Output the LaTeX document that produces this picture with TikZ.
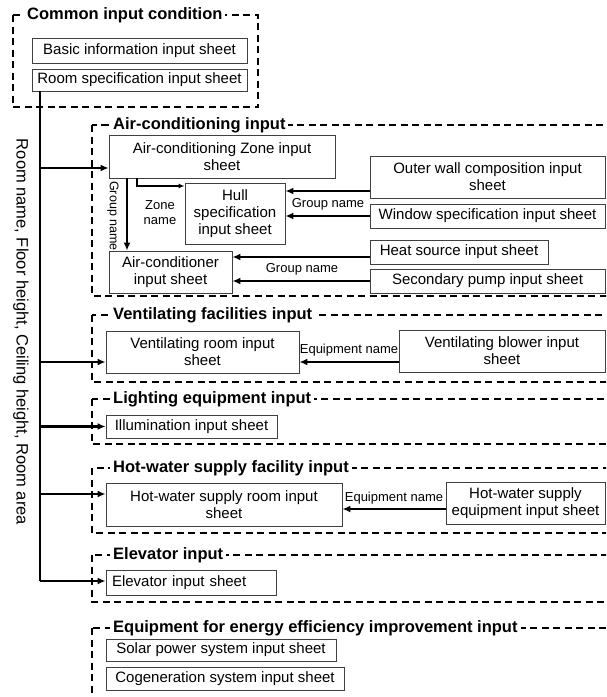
\documentclass[tikz,border=0pt]{standalone}
\usepackage{fontspec}
\setmainfont{Liberation Sans}
\usetikzlibrary{arrows.meta}

\tikzstyle{sheet} = [draw=black!75, line width=0.9pt, align=center, inner sep=0pt, font=\fontsize{15}{17}\selectfont]
\tikzstyle{grp} = [dash pattern=on 7pt off 4.5pt, line width=1.8pt]
\tikzstyle{ttl} = [anchor=west, fill=white, inner sep=3pt, font=\bfseries\fontsize{16.5}{19}\selectfont]
\tikzstyle{lbl} = [align=center, inner sep=0pt, font=\fontsize{13}{15}\selectfont]
\tikzstyle{arw} = [-{Latex[length=8pt,width=7pt]}, line width=2.2pt]
\tikzstyle{arwthin} = [-{Latex[length=6pt,width=5pt]}, line width=1.5pt]
\tikzstyle{trunk} = [line width=1.6pt]

\begin{document}
\begin{tikzpicture}[x=1pt, y=-1pt]
\useasboundingbox (0,0) rectangle (606,697);
\clip (0,0) rectangle (606,697);

    % dashed groups
    \draw[grp] (13,15) rectangle (258,107);
    \draw[grp] (92,125) rectangle (625,296);
    \draw[grp] (92,315) rectangle (625,382);
    \draw[grp] (92,399) rectangle (625,444);
    \draw[grp] (92,468) rectangle (625,533);
    \draw[grp] (92,555) rectangle (625,602);
    \draw[grp] (92,628) rectangle (625,720);

\node[ttl] (tcommon) at (24,15) {Common input condition};
\node[ttl] (tac) at (110,125) {Air-conditioning input};
\node[ttl] (tvent) at (110,315) {Ventilating facilities input};
\node[ttl] (tlight) at (110,399) {Lighting equipment input};
\node[ttl] (thw) at (110,468) {Hot-water supply facility input};
\node[ttl] (telev) at (110,555) {Elevator input};
\node[ttl] (tenergy) at (110,628) {Equipment for energy efficiency improvement input};

% sheets
\node[sheet, minimum width=215, minimum height=25] (basic) at (139.5,50.5) {Basic information input sheet};
\node[sheet, minimum width=215, minimum height=22] (roomspec) at (139.5,80) {Room specification input sheet};

\node[sheet, minimum width=226, minimum height=43] (acz) at (222,156.5) {Air-conditioning Zone input\\sheet};
\node[sheet, minimum width=100, minimum height=61] (hull) at (235,213.5) {Hull\\specification\\input sheet};
\node[sheet, minimum width=123, minimum height=42] (accond) at (170.5,272) {Air-conditioner\\input sheet};
\node[sheet, minimum width=235, minimum height=42] (outer) at (487.5,177) {Outer wall composition input\\sheet};
\node[sheet, minimum width=235, minimum height=24] (window) at (487.5,216) {Window specification input sheet};
\node[sheet, minimum width=178, minimum height=24] (heat) at (459,252) {Heat source input sheet};
\node[sheet, minimum width=235, minimum height=24] (pump) at (487.5,281) {Secondary pump input sheet};

\node[sheet, minimum width=193, minimum height=42] (ventroom) at (202.5,352) {Ventilating room input\\sheet};
\node[sheet, minimum width=206, minimum height=42] (blower) at (502,351) {Ventilating blower input\\sheet};

\node[sheet, minimum width=171, minimum height=23] (illum) at (191.5,426.5) {Illumination input sheet};

\node[sheet, minimum width=236, minimum height=43] (hwroom) at (224,504.5) {Hot-water supply room input\\sheet};
\node[sheet, minimum width=159, minimum height=42] (hwequip) at (525.5,503) {Hot-water supply\\equipment input sheet};

\node[sheet, minimum width=170, minimum height=25, text width=158, align=left] (elev) at (191,582.5) {Elevator input sheet};

\node[sheet, minimum width=230, minimum height=22] (solar) at (221,650) {Solar power system input sheet};
\node[sheet, minimum width=238, minimum height=23] (cog) at (225,678.5) {Cogeneration system input sheet};

% labels
\node[rotate=-90, inner sep=0pt, font=\fontsize{16.5}{19}\selectfont] (side) at (21,332) {Room name, Floor height, Ceiling height, Room area};
\node[lbl, rotate=-90, font=\fontsize{12.5}{14}\selectfont] (gnv) at (113,216) {Group name};
\node[lbl] (zone) at (160,213) {Zone\\name};
\node[lbl] (gnhull) at (328,204) {Group name};
\node[lbl] (gnac) at (302,269) {Group name};
\node[lbl] (eqvent) at (349,350) {Equipment name};
\node[lbl] (eqhw) at (394,498) {Equipment name};

% trunk and branches
\coordinate (tbot) at (40,581);
\draw[trunk] (roomspec.south -| tbot) -- (tbot);
\foreach \n/\y in {acz/168, ventroom/362, illum/426.5, hwroom/494, elev/581}
    \draw[arw] (tbot |- 0,\y) -- (\n.west |- 0,\y);

% air-conditioning links
\draw[arw] (acz.south -| 127,0) -- (accond.north -| 127,0);
\draw[arwthin] (acz.south -| 137,0) |- (hull.west |- 0,186);
\draw[arw] (outer.west |- 0,191) -- (hull.east |- 0,191);
\draw[arw] (window.west) -- (window.west -| hull.east);
\draw[arw] (heat.west |- 0,257) -- (accond.east |- 0,257);
\draw[arw] (pump.west) -- (pump.west -| accond.east);

% equipment links
\draw[arw] (blower.west |- 0,362) -- (ventroom.east |- 0,362);
\draw[arw] (hwequip.west |- 0,509) -- (hwroom.east |- 0,509);

\end{tikzpicture}
\end{document}
